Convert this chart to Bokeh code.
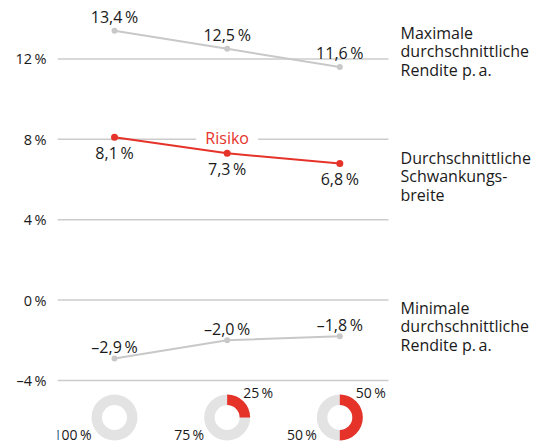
import math
from bokeh.plotting import figure
from bokeh.models import Range1d, ColumnDataSource, FixedTicker
from bokeh.core.properties import value
from bokeh.embed import file_html
from bokeh.resources import INLINE

# ---- data ----
portfolios = ["A", "B", "C"]
equity_share = [0, 25, 50]
bond_share = [100, 75, 50]
max_return = [13.4, 12.5, 11.6]
risk = [8.1, 7.3, 6.8]
min_return = [-2.9, -2.0, -1.8]
y_ticks = [-4, 0, 4, 8, 12]
series_titles = [
    "Maximale\ndurchschnittliche\nRendite p.\u2009a.",
    "Durchschnittliche\nSchwankungs-\nbreite",
    "Minimale\ndurchschnittliche\nRendite p.\u2009a.",
]
risk_title = "Risiko"

# ---- styling / layout ----
FONT = value("Open Sans")
TXT = "#1a1a1a"
GREY = "#c8c8c8"
RED = "#e5332a"
RING = "#e3e3e3"
GRID = "#cccccc"
grid_x0, grid_x1 = -0.506, 2.432
title_x = 2.539
title_y = [12.37, 6.15, -1.31]
donut_y = -5.84


def fmt(v, dec=1):
    s = f"{v:.{dec}f}".replace(".", ",").replace("-", "\u2013")
    return s + "\u2009%"


xs = list(range(len(portfolios)))

p = figure(width=535, height=444,
           x_range=Range1d(-0.506, 3.737), y_range=Range1d(-7.184, 14.905),
           output_backend="svg", toolbar_location=None, x_axis_location=None,
           min_border_left=57, min_border_right=0, min_border_top=0,
           min_border_bottom=0, outline_line_color=None,
           background_fill_color="white", border_fill_color="white")
p.grid.visible = False
ax = p.yaxis[0]
ax.ticker = FixedTicker(ticks=y_ticks)
ax.major_label_overrides = {t: fmt(t, 0) for t in y_ticks}
ax.axis_line_color = None
ax.major_tick_line_color = None
ax.minor_tick_line_color = None
ax.major_tick_out = 0
ax.major_tick_in = 0
ax.major_label_standoff = 11
ax.major_label_text_font = "Open Sans"
ax.major_label_text_font_size = "14.5px"
ax.major_label_text_color = TXT

# grid lines
gsrc = ColumnDataSource(dict(x0=[grid_x0] * len(y_ticks), x1=[grid_x1] * len(y_ticks), y=y_ticks))
p.segment(x0="x0", y0="y", x1="x1", y1="y", source=gsrc, line_color=GRID, line_width=1.5)

# white patch behind "Risiko"
p.rect(x=[1], y=[8], width=62, height=12, width_units="screen", height_units="screen",
       fill_color="white", line_color=None)

# grey series
for vals in (max_return, min_return):
    p.line(xs, vals, line_color=GREY, line_width=2)
    p.scatter(xs, vals, size=6, fill_color=GREY, line_color=None)

# risk series
p.line(xs, risk, line_color=RED, line_width=2)
p.scatter(xs, risk, size=7, fill_color=RED, line_color=None)

common = dict(text_font=FONT, text_align="center", text_baseline="middle", text_color=TXT,
              text_font_size="16px")
p.text(x=xs, y=max_return, text=[fmt(v) for v in max_return], y_offset=-14, **common)
p.text(x=xs, y=risk, text=[fmt(v) for v in risk], y_offset=16, **common)
p.text(x=xs, y=min_return, text=[fmt(v) for v in min_return], y_offset=-11, **common)

p.text(x=[1], y=[8], text=[risk_title], y_offset=-1, text_font=FONT, text_align="center",
       text_baseline="middle", text_color=RED, text_font_size="16px")

# series titles on the right
p.text(x=[title_x] * 3, y=title_y, text=series_titles, text_font=FONT, text_align="left",
       text_baseline="middle", text_color=TXT, text_font_size="16px", text_line_height=0.83)

# donuts (allocation)
p.annulus(x=xs, y=[donut_y] * 3, inner_radius=12.5, outer_radius=23,
          inner_radius_units="screen", outer_radius_units="screen",
          fill_color=RING, line_color=None)
wx = [x for x, s in zip(xs, equity_share) if s > 0]
ws = [s for s in equity_share if s > 0]
p.annular_wedge(x=wx, y=[donut_y] * len(wx), inner_radius=12.5, outer_radius=23,
                inner_radius_units="screen", outer_radius_units="screen",
                start_angle=[math.pi / 2 - 2 * math.pi * s / 100 for s in ws],
                end_angle=[math.pi / 2] * len(ws),
                fill_color=RED, line_color=None)
p.text(x=xs, y=[donut_y] * 3, text=[fmt(b, 0) for b in bond_share], x_offset=-23, y_offset=17,
       text_font=FONT, text_align="right", text_baseline="middle", text_color=TXT,
       text_font_size="14px")
p.text(x=wx, y=[donut_y] * len(wx), text=[fmt(s, 0) for s in ws], x_offset=16, y_offset=-25,
       text_font=FONT, text_align="left", text_baseline="middle", text_color=TXT,
       text_font_size="14px")

open("out.html", "w").write(file_html(p, INLINE))
